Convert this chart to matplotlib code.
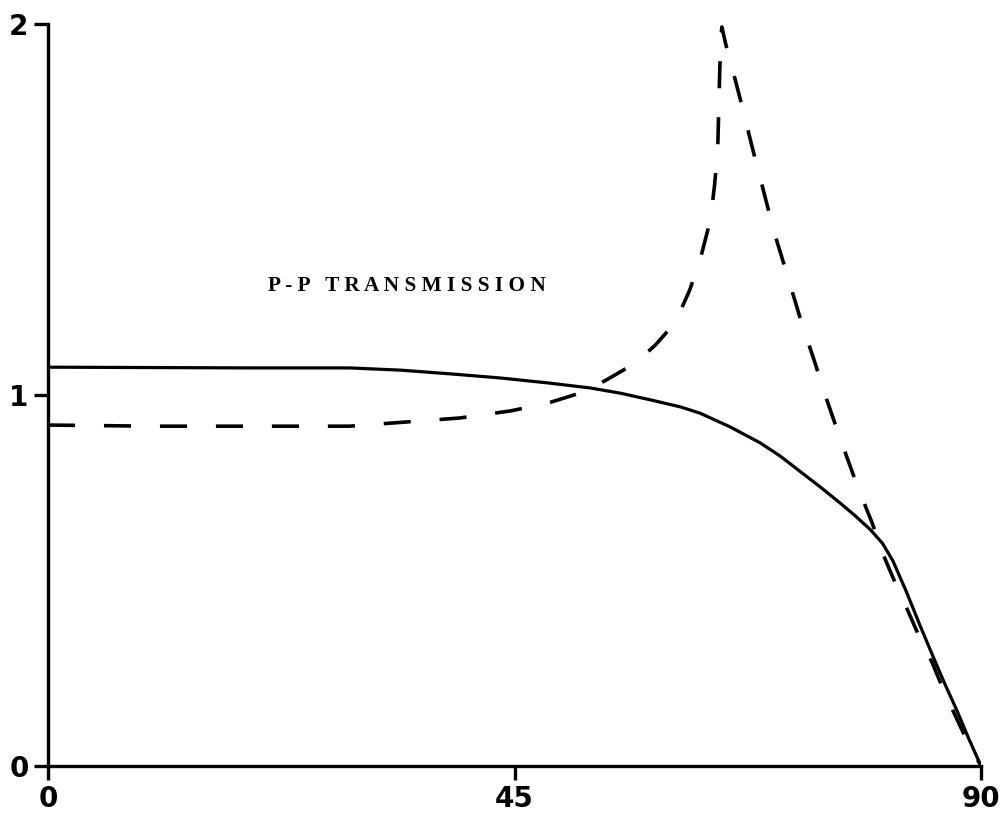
import matplotlib.pyplot as plt
import numpy as np

# incidence angle (deg) vs P-P transmission
solid_x = [0, 9.8, 19.5, 29.1, 34.0, 38.8, 43.6, 48.4, 52.3, 55.2, 58.1,
           61.0, 62.9, 65.8, 68.7, 70.6, 72.5, 74.5, 76.4, 77.8, 79.3, 80.5,
           81.5, 82.8, 84.1, 85.3, 86.5, 87.7, 88.8, 90]
solid_y = [1.075, 1.074, 1.073, 1.073, 1.067, 1.057, 1.046, 1.032, 1.019,
           1.005, 0.987, 0.968, 0.951, 0.914, 0.871, 0.836, 0.795, 0.752,
           0.709, 0.676, 0.638, 0.600, 0.553, 0.470, 0.380, 0.300, 0.222,
           0.148, 0.075, 0.0]

dash_x = [0, 9.8, 19.5, 29.1, 32.0, 35.9, 39.7, 44.6, 48.2, 51.3, 53.7,
          55.5, 57.1, 58.6, 59.8, 61.0, 61.9, 62.9, 63.9, 64.3, 64.6, 64.7,
          64.8, 64.9, 65.0, 65.4, 66.0, 66.9, 67.9, 68.9, 70.1, 71.4, 72.7,
          73.9, 75.1, 76.4, 78.0, 79.5, 80.7, 81.9, 83.0, 84.1, 85.3, 86.5,
          87.8, 88.7, 90]
dash_y = [0.919, 0.916, 0.916, 0.916, 0.922, 0.930, 0.938, 0.957, 0.978,
          1.005, 1.038, 1.067, 1.097, 1.135, 1.173, 1.226, 1.283, 1.364,
          1.472, 1.566, 1.660, 1.768, 1.876, 1.957, 1.992, 1.943, 1.881,
          1.784, 1.671, 1.563, 1.434, 1.315, 1.194, 1.094, 0.989, 0.884,
          0.760, 0.655, 0.561, 0.482, 0.415, 0.345, 0.278, 0.197, 0.119,
          0.065, 0.0]

xticks = [0, 45, 90]
yticks = [0, 1, 2]

fig = plt.figure(figsize=(10.08, 8.17), dpi=100)
ax = fig.add_axes([48 / 1008, 1 - 766 / 817, 933 / 1008, 742 / 817])

ax.plot(solid_x, solid_y, color='black', lw=2.3, solid_joinstyle='round')
ax.plot(dash_x, dash_y, color='black', lw=2.6, dashes=(7.5, 8),
        dash_capstyle='butt', dash_joinstyle='round')

ax.set_xlim(0, 90)
ax.set_ylim(0, 2)
ax.set_xticks(xticks)
ax.set_yticks(yticks)

for s in ['top', 'right']:
    ax.spines[s].set_visible(False)
for s in ['left', 'bottom']:
    ax.spines[s].set_linewidth(2.4)

ax.tick_params(direction='out', length=10, width=2.4, pad=4)
for lab in ax.get_xticklabels() + ax.get_yticklabels():
    lab.set_fontweight('bold')
    lab.set_fontsize(20)

ax.text(21.2, 1.295, 'P - P   T R A N S M I S S I O N', fontsize=15.3,
        fontweight='bold', family=['Liberation Serif', 'DejaVu Serif'],
        ha='left', va='center')

plt.savefig('out.png', dpi=100)
